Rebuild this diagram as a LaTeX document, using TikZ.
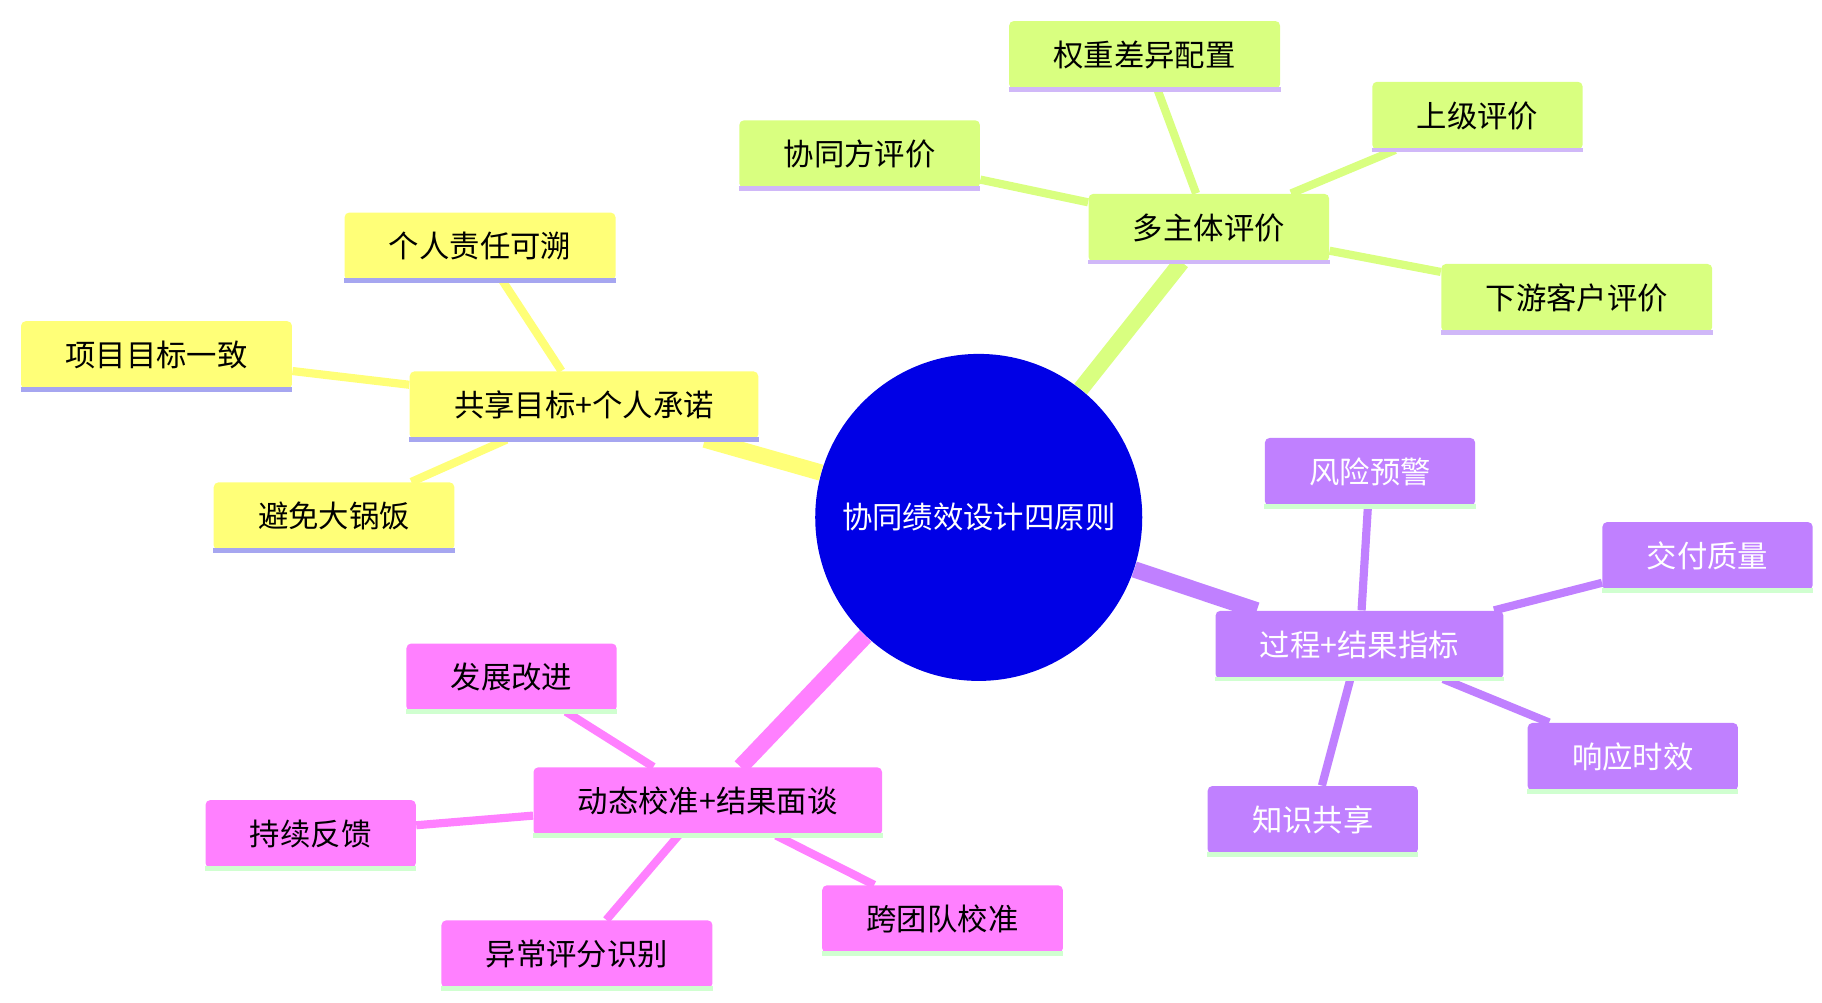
\documentclass[tikz,border=0pt]{standalone}
\usepackage{fontspec}
\setmainfont{Noto Sans CJK SC}
\usetikzlibrary{backgrounds}
\definecolor{cblue}{RGB}{0,0,230}
\definecolor{cyel}{RGB}{255,255,120}
\definecolor{cgrn}{RGB}{217,255,128}
\definecolor{cpur}{RGB}{192,128,255}
\definecolor{cpink}{RGB}{255,128,255}
\definecolor{ulA}{RGB}{166,166,240}
\definecolor{ulB}{RGB}{208,184,248}
\definecolor{ulC}{RGB}{208,255,208}
\tikzset{
 box/.style 2 args={rectangle, rounded corners=2pt, fill=#1, minimum height=29pt, inner xsep=19pt, font=\fontsize{13}{15}\selectfont,
   append after command={(\tikzlastnode.south west) edge[draw=#2, line width=2pt] (\tikzlastnode.south east)}},
 ybox/.style={box={cyel}{ulA}},
 gbox/.style={box={cgrn}{ulB}},
 pbox/.style={box={cpur}{ulC}, text=white},
 kbox/.style={box={cpink}{ulC}},
 main/.style={line width=7pt},
 sub/.style={line width=3.5pt},
}
\begin{document}
\begin{tikzpicture}[x=0.5pt,y=-0.5pt]
\useasboundingbox (0,0) rectangle (1560,858);
\node[circle, fill=cblue, minimum size=140pt, text=white, font=\fontsize{13}{15}\selectfont] (c) at (838,443) {协同绩效设计四原则};
\node[ybox] (y) at (500,347) {共享目标+个人承诺};
\node[ybox] (y1) at (411,211) {个人责任可溯};
\node[ybox] (y2) at (134,304) {项目目标一致};
\node[ybox] (y3) at (286,442) {避免大锅饭};
\node[gbox] (g) at (1035,195) {多主体评价};
\node[gbox] (g1) at (980,47) {权重差异配置};
\node[gbox] (g2) at (1265,99) {上级评价};
\node[gbox] (g3) at (736,132) {协同方评价};
\node[gbox] (g4) at (1350,255) {下游客户评价};
\node[pbox] (p) at (1164,552) {过程+结果指标};
\node[pbox] (p1) at (1173,404) {风险预警};
\node[pbox] (p2) at (1462,476) {交付质量};
\node[pbox] (p3) at (1398,648) {响应时效};
\node[pbox] (p4) at (1124,702) {知识共享};
\node[kbox] (k) at (606,686) {动态校准+结果面谈};
\node[kbox] (k1) at (438,580) {发展改进};
\node[kbox] (k2) at (266,714) {持续反馈};
\node[kbox] (k3) at (494,817) {异常评分识别};
\node[kbox] (k4) at (807,787) {跨团队校准};
\begin{scope}[on background layer]
\draw[main, cyel] (c) -- (y);
\draw[main, cgrn] (c) -- (g);
\draw[main, cpur] (c) -- (p);
\draw[main, cpink] (c) -- (k);
\foreach \n in {y1,y2,y3} \draw[sub, cyel] (y) -- (\n);
\foreach \n in {g1,g2,g3,g4} \draw[sub, cgrn] (g) -- (\n);
\foreach \n in {p1,p2,p3,p4} \draw[sub, cpur] (p) -- (\n);
\foreach \n in {k1,k2,k3,k4} \draw[sub, cpink] (k) -- (\n);
\end{scope}
\end{tikzpicture}
\end{document}
